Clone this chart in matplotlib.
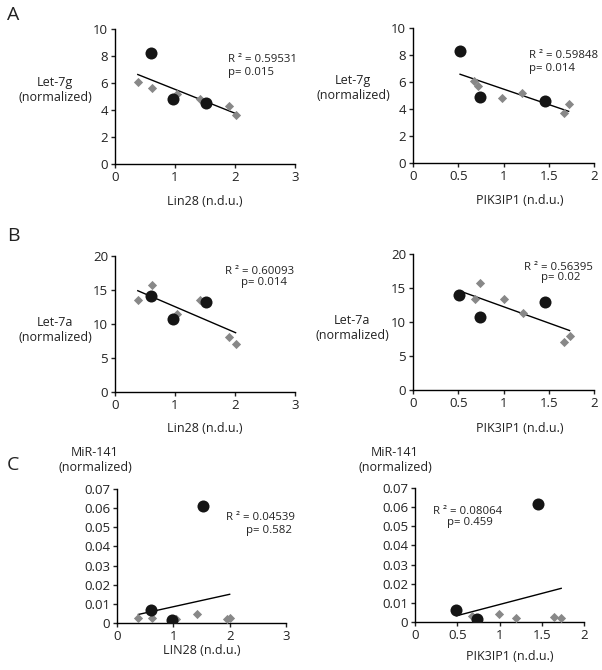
import numpy as np
import matplotlib
matplotlib.use('Agg')
import matplotlib.pyplot as plt

W, H = 602, 670

# Panel A/B/C data
# Lin28 panels (left column)
lin28_circ_x = [0.60, 0.97, 1.51]
lin28_diam_x = [0.38, 0.61, 1.04, 1.41, 1.90, 2.01]
# PIK3IP1 panels (right column)
pik_circ_x_a = [0.52, 0.74, 1.46]
pik_diam_x_a = [0.67, 0.72, 0.98, 1.20, 1.67, 1.72]

let7g_circ = [8.22, 4.80, 4.52]
let7g_diam = [6.05, 5.65, 5.20, 4.85, 4.30, 3.65]
let7g_circ_r = [8.30, 4.88, 4.62]
let7g_diam_r = [6.10, 5.70, 4.85, 5.22, 3.70, 4.35]

let7a_circ = [14.1, 10.7, 13.3]
let7a_diam = [13.5, 15.8, 11.4, 13.5, 8.1, 7.1]
pik_circ_x_b = [0.51, 0.74, 1.46]
pik_diam_x_b = [0.69, 0.74, 1.00, 1.22, 1.67, 1.73]
let7a_circ_r = [14.0, 10.8, 13.0]
let7a_diam_r = [13.4, 15.7, 13.4, 11.3, 7.0, 8.0]

mir141_circ = [0.0068, 0.0018, 0.0611]
mir141_diam = [0.0028, 0.0028, 0.0020, 0.0045, 0.0020, 0.0025]
lin28_circ_x_c = [0.60, 0.97, 1.52]
lin28_diam_x_c = [0.38, 0.62, 1.05, 1.42, 1.95, 2.00]
pik_circ_x_c = [0.49, 0.73, 1.46]
pik_diam_x_c = [0.68, 0.99, 1.20, 1.64, 1.73]
mir141_circ_r = [0.0065, 0.0014, 0.0614]
mir141_diam_r = [0.0030, 0.0044, 0.0022, 0.0026, 0.0022]

fit_text = {
    'A1': ('R \u00b2 = 0.59531', 'p= 0.015'),
    'A2': ('R \u00b2 = 0.59848', 'p= 0.014'),
    'B1': ('R \u00b2 = 0.60093', 'p= 0.014'),
    'B2': ('R \u00b2 = 0.56395', 'p= 0.02'),
    'C1': ('R \u00b2 = 0.04539', 'p= 0.582'),
    'C2': ('R \u00b2 = 0.08064', 'p= 0.459'),
}

plt.rcParams['font.family'] = ['Open Sans', 'DejaVu Sans']
fig = plt.figure(figsize=(W / 100, H / 100), dpi=100)


def px_axes(l, t, r, b):
    return fig.add_axes([l / W, 1 - b / H, (r - l) / W, (b - t) / H])


def ftext(x, y, s, **kw):
    fig.text(x / W, 1 - y / H, s, **kw)


def panel(rect, cx, cy, dx, dy, xlim, xticks, ylim, yticks, yfmt):
    ax = px_axes(*rect)
    ax.scatter(dx, dy, marker='D', s=22, color='#888888', zorder=3, linewidths=0)
    ax.scatter(cx, cy, marker='o', s=75, color='#151515', zorder=4, linewidths=0)
    xs = np.array(list(cx) + list(dx))
    ys = np.array(list(cy) + list(dy))
    k, b = np.polyfit(xs, ys, 1)
    xl = np.array([xs.min(), xs.max()])
    ax.plot(xl, k * xl + b, color='black', lw=1, zorder=2)
    ax.set_xlim(*xlim)
    ax.set_ylim(*ylim)
    ax.set_xticks(xticks)
    ax.set_yticks(yticks)
    ax.set_yticklabels([yfmt(v) for v in yticks])
    ax.set_xticklabels([('%g' % v) for v in xticks])
    for s in ['top', 'right']:
        ax.spines[s].set_visible(False)
    for s in ['left', 'bottom']:
        ax.spines[s].set_linewidth(1)
    ax.tick_params(labelsize=9.5, length=3, width=1, colors='#222222', pad=2)
    ax.patch.set_alpha(0)
    return ax


ifmt = lambda v: '%d' % v
ffmt = lambda v: '0' if v == 0 else '%.2f' % v

# A
panel((115, 29, 295, 164), lin28_circ_x, let7g_circ, lin28_diam_x, let7g_diam,
      (0, 3), [0, 1, 2, 3], (0, 10), [0, 2, 4, 6, 8, 10], ifmt)
panel((413, 28, 594, 163), pik_circ_x_a, let7g_circ_r, pik_diam_x_a, let7g_diam_r,
      (0, 2), [0, 0.5, 1, 1.5, 2], (0, 10), [0, 2, 4, 6, 8, 10], ifmt)
# B
panel((115, 256, 295, 392), lin28_circ_x, let7a_circ, lin28_diam_x, let7a_diam,
      (0, 3), [0, 1, 2, 3], (0, 20), [0, 5, 10, 15, 20], ifmt)
panel((413, 254, 594, 390), pik_circ_x_b, let7a_circ_r, pik_diam_x_b, let7a_diam_r,
      (0, 2), [0, 0.5, 1, 1.5, 2], (0, 20), [0, 5, 10, 15, 20], ifmt)
# C
panel((117, 489, 286, 623), lin28_circ_x_c, mir141_circ, lin28_diam_x_c, mir141_diam,
      (0, 3), [0, 1, 2, 3], (0, 0.07), [0, 0.01, 0.02, 0.03, 0.04, 0.05, 0.06, 0.07], ffmt)
panel((415, 488, 584, 622), pik_circ_x_c, mir141_circ_r, pik_diam_x_c, mir141_diam_r,
      (0, 2), [0, 0.5, 1, 1.5, 2], (0, 0.07), [0, 0.01, 0.02, 0.03, 0.04, 0.05, 0.06, 0.07], ffmt)

lab = dict(fontsize=9, color='#222222', ha='center', va='center')
# y labels
ftext(55, 90, 'Let-7g\n(normalized)', linespacing=1.2, **lab)
ftext(353, 88, 'Let-7g\n(normalized)', linespacing=1.2, **lab)
ftext(55, 330, 'Let-7a\n(normalized)', linespacing=1.2, **lab)
ftext(352, 328, 'Let-7a\n(normalized)', linespacing=1.2, **lab)
ftext(95, 460, 'MiR-141\n(normalized)', linespacing=1.2, **lab)
ftext(395, 460, 'MiR-141\n(normalized)', linespacing=1.2, **lab)
# x labels
ftext(205, 201, 'Lin28 (n.d.u.)', **lab)
ftext(520, 200, 'PIK3IP1 (n.d.u.)', **lab)
ftext(205, 428, 'Lin28 (n.d.u.)', **lab)
ftext(520, 428, 'PIK3IP1 (n.d.u.)', **lab)
ftext(202, 651, 'LIN28 (n.d.u.)', **lab)
ftext(510, 657, 'PIK3IP1 (n.d.u.)', **lab)

# panel letters
for x, y, s in [(13, 15, 'A'), (13, 236, 'B'), (13, 465, 'C')]:
    ftext(x, y, s, fontsize=14, color='#222222', ha='center', va='center')

# fit annotations
ann = dict(fontsize=8.2, color='#222222', va='center')
positions = {
    'A1': ((228, 59), (228, 72)),
    'A2': ((529, 55), (529, 68)),
    'B1': ((225, 271), (241, 282)),
    'B2': ((524, 267), (541, 278)),
    'C1': ((226, 518), (246, 530)),
    'C2': ((433, 511), (447, 523)),
}
for key, (r2, pv) in fit_text.items():
    (x1, y1), (x2, y2) = positions[key]
    ftext(x1, y1, r2, **ann)
    ftext(x2, y2, pv, **ann)

fig.savefig('out.png', dpi=100, facecolor='white')
